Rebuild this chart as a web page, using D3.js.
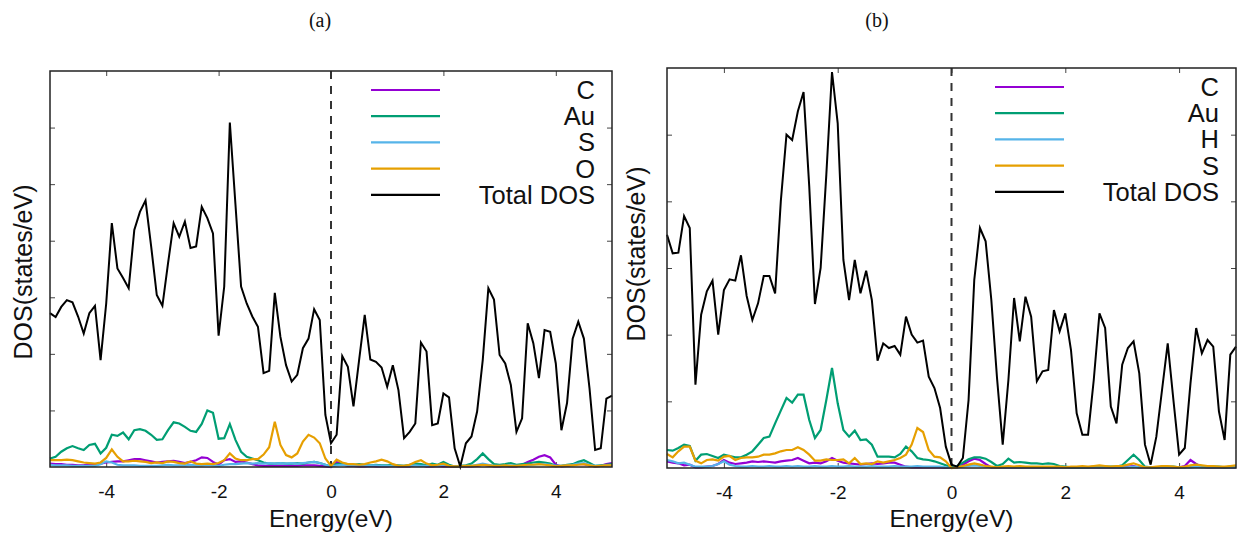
<!DOCTYPE html>
<html>
<head>
<meta charset="utf-8">
<script src="https://cdn.jsdelivr.net/npm/d3@7/dist/d3.min.js"></script>
<style>
  body { margin: 0; background: #fff; }
  svg { display: block; }
  text { font-family: "Liberation Sans", Arial, sans-serif; fill: #111; }
</style>
</head>
<body>
<script>
// energy grid of the DOS files (eV)
var energy = [-5.0,-4.9,-4.8,-4.7,-4.6,-4.5,-4.4,-4.3,-4.2,-4.1,-4.0,-3.9,-3.8,-3.7,-3.6,-3.5,-3.4,-3.3,-3.2,-3.1,
  -3.0,-2.9,-2.8,-2.7,-2.6,-2.5,-2.4,-2.3,-2.2,-2.1,-2.0,-1.9,-1.8,-1.7,-1.6,-1.5,-1.4,-1.3,-1.2,-1.1,
  -1.0,-0.9,-0.8,-0.7,-0.6,-0.5,-0.4,-0.3,-0.2,-0.1,0.0,0.1,0.2,0.3,0.4,0.5,0.6,0.7,0.8,0.9,
  1.0,1.1,1.2,1.3,1.4,1.5,1.6,1.7,1.8,1.9,2.0,2.1,2.2,2.3,2.4,2.5,2.6,2.7,2.8,2.9,
  3.0,3.1,3.2,3.3,3.4,3.5,3.6,3.7,3.8,3.9,4.0,4.1,4.2,4.3,4.4,4.5,4.6,4.7,4.8,4.9,5.0];

// panel (a)
var aTotal = [2.72,2.65,2.83,2.95,2.91,2.66,2.36,2.72,2.85,1.89,2.89,4.31,3.51,3.34,3.16,4.19,4.51,4.71,3.90,3.04,
  2.85,3.60,4.31,4.07,4.34,3.87,3.90,4.60,4.40,4.13,2.32,3.19,6.09,4.64,3.19,2.89,2.66,2.48,1.66,1.70,
  3.08,2.30,1.80,1.51,1.63,2.10,2.27,2.79,2.60,0.92,0.42,0.57,1.96,1.77,1.07,1.89,2.69,1.90,1.86,1.76,
  1.42,1.80,1.36,0.51,0.62,0.77,2.20,2.04,0.74,0.77,1.30,1.23,0.33,0.01,0.42,0.54,0.98,1.89,3.16,2.96,
  1.98,1.83,1.45,0.62,0.86,2.54,2.19,1.57,2.42,2.39,1.83,0.65,1.13,2.27,2.57,2.27,1.39,0.30,0.33,1.21,1.26];
var aC = [0.06,0.05,0.05,0.04,0.04,0.03,0.03,0.05,0.04,0.06,0.08,0.09,0.10,0.10,0.12,0.14,0.14,0.12,0.10,0.08,
  0.09,0.10,0.11,0.09,0.07,0.09,0.12,0.17,0.16,0.09,0.04,0.12,0.14,0.09,0.10,0.08,0.05,0.03,0.02,0.02,
  0.02,0.02,0.02,0.02,0.02,0.03,0.03,0.03,0.02,0.01,0.00,0.09,0.05,0.02,0.02,0.01,0.01,0.02,0.01,0.01,
  0.01,0.02,0.01,0.01,0.01,0.04,0.03,0.01,0.01,0.02,0.01,0.01,0.00,0.01,0.01,0.01,0.02,0.04,0.03,0.01,
  0.01,0.02,0.01,0.01,0.04,0.09,0.13,0.18,0.21,0.17,0.04,0.01,0.02,0.04,0.05,0.05,0.03,0.01,0.02,0.05,0.07];
var aAu = [0.15,0.18,0.27,0.33,0.37,0.33,0.30,0.39,0.41,0.24,0.34,0.57,0.55,0.61,0.49,0.65,0.67,0.64,0.57,0.48,
  0.49,0.65,0.79,0.77,0.71,0.64,0.62,0.76,1.00,0.96,0.50,0.51,0.76,0.48,0.27,0.18,0.15,0.12,0.08,0.06,
  0.06,0.07,0.06,0.06,0.07,0.06,0.08,0.09,0.07,0.04,0.01,0.05,0.06,0.05,0.04,0.05,0.04,0.03,0.04,0.03,
  0.03,0.04,0.03,0.02,0.04,0.06,0.05,0.03,0.06,0.04,0.09,0.04,0.01,0.02,0.03,0.06,0.14,0.24,0.14,0.05,
  0.04,0.05,0.07,0.04,0.05,0.06,0.08,0.09,0.08,0.06,0.02,0.02,0.04,0.05,0.09,0.12,0.07,0.02,0.03,0.04,0.05];
var aS = [0.04,0.03,0.03,0.03,0.02,0.02,0.02,0.02,0.02,0.05,0.10,0.08,0.04,0.03,0.03,0.03,0.02,0.02,0.02,0.02,
  0.03,0.04,0.03,0.03,0.03,0.04,0.03,0.03,0.04,0.03,0.02,0.04,0.05,0.05,0.06,0.07,0.06,0.07,0.06,0.07,
  0.06,0.07,0.06,0.07,0.06,0.07,0.08,0.09,0.07,0.04,0.01,0.03,0.04,0.03,0.03,0.03,0.03,0.03,0.03,0.02,
  0.02,0.02,0.02,0.02,0.02,0.03,0.02,0.02,0.03,0.02,0.04,0.02,0.01,0.01,0.02,0.02,0.04,0.06,0.04,0.02,
  0.02,0.02,0.03,0.02,0.02,0.03,0.04,0.05,0.05,0.04,0.02,0.02,0.03,0.04,0.06,0.07,0.04,0.02,0.02,0.03,0.03];
var aO = [0.12,0.12,0.12,0.13,0.12,0.10,0.08,0.07,0.06,0.08,0.16,0.31,0.18,0.10,0.10,0.11,0.10,0.09,0.07,0.08,
  0.07,0.10,0.09,0.07,0.06,0.10,0.06,0.05,0.06,0.05,0.07,0.12,0.24,0.15,0.12,0.12,0.14,0.14,0.22,0.35,
  0.80,0.39,0.21,0.17,0.24,0.45,0.57,0.52,0.42,0.15,0.02,0.13,0.08,0.05,0.05,0.04,0.05,0.08,0.10,0.13,
  0.10,0.05,0.02,0.02,0.04,0.09,0.12,0.06,0.03,0.04,0.06,0.02,0.01,0.01,0.02,0.02,0.03,0.04,0.03,0.02,
  0.02,0.03,0.02,0.02,0.03,0.04,0.04,0.05,0.04,0.03,0.01,0.02,0.03,0.03,0.04,0.05,0.03,0.01,0.02,0.03,0.03];

// panel (b)
var bTotal = [3.50,3.22,3.23,3.78,3.60,1.25,2.30,2.65,2.81,2.00,2.67,2.83,2.81,3.19,2.58,2.22,2.47,2.88,2.88,2.62,
  4.00,5.00,4.92,5.35,5.64,4.22,2.46,3.00,4.40,5.94,5.17,3.12,2.52,3.12,2.62,2.96,2.52,1.61,1.87,1.80,
  1.83,1.70,2.27,2.00,1.88,1.91,1.37,1.20,0.90,0.32,0.05,0.02,0.15,1.02,2.82,3.60,3.40,2.52,1.35,0.35,
  1.32,2.55,1.90,2.57,2.27,1.30,1.45,1.47,2.37,2.05,2.32,1.77,0.82,0.50,0.50,1.32,2.32,2.10,0.92,0.67,
  1.55,1.80,1.90,1.42,0.35,0.05,0.47,1.17,1.87,1.02,0.20,0.30,1.27,2.10,1.72,1.92,1.82,0.85,0.42,1.70,1.82];
var bC = [0.10,0.08,0.07,0.04,0.05,0.01,0.01,0.02,0.03,0.06,0.12,0.08,0.06,0.07,0.08,0.10,0.09,0.10,0.09,0.08,
  0.10,0.11,0.12,0.15,0.11,0.07,0.08,0.07,0.10,0.15,0.11,0.08,0.07,0.06,0.05,0.06,0.07,0.06,0.07,0.08,
  0.08,0.05,0.02,0.01,0.01,0.01,0.01,0.01,0.01,0.00,0.00,0.01,0.05,0.10,0.14,0.12,0.06,0.01,0.01,0.01,
  0.01,0.01,0.01,0.01,0.01,0.01,0.01,0.01,0.01,0.01,0.01,0.01,0.01,0.01,0.01,0.01,0.01,0.01,0.01,0.01,
  0.01,0.02,0.03,0.01,0.01,0.01,0.01,0.01,0.01,0.01,0.01,0.03,0.12,0.06,0.02,0.01,0.01,0.01,0.01,0.01,0.01];
var bAu = [0.27,0.26,0.30,0.35,0.33,0.11,0.20,0.21,0.18,0.15,0.20,0.18,0.16,0.16,0.20,0.25,0.35,0.45,0.47,0.67,
  0.86,1.05,0.98,1.10,1.10,0.72,0.45,0.57,1.02,1.50,0.97,0.57,0.47,0.56,0.42,0.43,0.35,0.17,0.17,0.17,
  0.16,0.21,0.32,0.25,0.15,0.13,0.12,0.10,0.07,0.04,0.01,0.03,0.08,0.13,0.16,0.16,0.14,0.09,0.03,0.06,
  0.14,0.08,0.09,0.08,0.07,0.07,0.06,0.07,0.06,0.03,0.02,0.01,0.01,0.01,0.01,0.02,0.02,0.02,0.02,0.02,
  0.04,0.12,0.20,0.12,0.02,0.01,0.01,0.02,0.02,0.02,0.01,0.01,0.03,0.05,0.03,0.02,0.02,0.02,0.01,0.02,0.02];
var bH = [0.12,0.10,0.07,0.08,0.05,0.02,0.02,0.02,0.03,0.06,0.10,0.05,0.03,0.02,0.02,0.03,0.02,0.02,0.03,0.02,
  0.02,0.03,0.02,0.03,0.02,0.02,0.03,0.02,0.02,0.03,0.02,0.02,0.03,0.02,0.02,0.02,0.03,0.02,0.02,0.02,
  0.03,0.02,0.02,0.02,0.03,0.02,0.02,0.02,0.02,0.01,0.00,0.01,0.02,0.03,0.04,0.03,0.02,0.01,0.01,0.01,
  0.01,0.01,0.01,0.01,0.01,0.01,0.01,0.01,0.01,0.01,0.01,0.01,0.01,0.01,0.01,0.01,0.01,0.01,0.01,0.01,
  0.01,0.01,0.02,0.01,0.01,0.01,0.01,0.01,0.01,0.01,0.01,0.01,0.01,0.02,0.01,0.01,0.01,0.01,0.01,0.01,0.01];
var bS = [0.21,0.16,0.25,0.32,0.32,0.11,0.07,0.12,0.13,0.11,0.17,0.18,0.12,0.15,0.16,0.16,0.17,0.20,0.20,0.22,
  0.25,0.27,0.27,0.31,0.27,0.20,0.11,0.11,0.13,0.12,0.12,0.13,0.07,0.15,0.06,0.07,0.06,0.10,0.08,0.10,
  0.12,0.15,0.20,0.35,0.60,0.54,0.27,0.17,0.16,0.10,0.00,0.01,0.03,0.05,0.07,0.05,0.03,0.02,0.01,0.02,
  0.03,0.02,0.03,0.02,0.02,0.02,0.02,0.02,0.02,0.02,0.01,0.02,0.02,0.03,0.02,0.03,0.04,0.03,0.02,0.03,
  0.03,0.05,0.07,0.04,0.01,0.01,0.02,0.03,0.03,0.02,0.01,0.02,0.04,0.05,0.04,0.03,0.03,0.02,0.02,0.03,0.04];

var xTicks = [-4, -2, 0, 2, 4];
var aLabels = ["C", "Au", "S", "O", "Total DOS"];
var bLabels = ["C", "Au", "H", "S", "Total DOS"];
var colors = ["#9400d3", "#009e73", "#56b4e9", "#e69f00", "#000000"];

var w = 1241, h = 540;
var svg = d3.select("body").append("svg").attr("width", w).attr("height", h);

function drawPanel(opt) {
    var x = d3.scaleLinear().domain([-5, 5]).range([opt.left, opt.right]);
    var y = d3.scaleLinear().domain([0, opt.yMax]).range([opt.bottom, opt.top]);
    var g = svg.append("g");
    var yTicks = d3.range(1, opt.yMax);

    // ticks on all four sides, pointing inward
    g.append("g").attr("transform", "translate(0," + opt.bottom + ")")
        .call(d3.axisBottom(x).tickValues(xTicks).tickSizeInner(-5).tickSizeOuter(0).tickPadding(18)
            .tickFormat(function (d) { return d; }))
        .call(function (s) {
            s.select(".domain").remove();
            s.selectAll("text").attr("font-size", "19px").attr("font-family", null).style("fill", "#111");
        });
    g.append("g").attr("transform", "translate(0," + opt.top + ")")
        .call(d3.axisTop(x).tickValues(xTicks).tickSizeInner(-5).tickSizeOuter(0).tickFormat(""))
        .call(function (s) { s.select(".domain").remove(); });
    g.append("g").attr("transform", "translate(" + opt.left + ",0)")
        .call(d3.axisLeft(y).tickValues(yTicks).tickSizeInner(-5).tickSizeOuter(0).tickFormat(""))
        .call(function (s) { s.select(".domain").remove(); });
    g.append("g").attr("transform", "translate(" + opt.right + ",0)")
        .call(d3.axisRight(y).tickValues(yTicks).tickSizeInner(-5).tickSizeOuter(0).tickFormat(""))
        .call(function (s) { s.select(".domain").remove(); });
    g.selectAll(".tick line").attr("stroke", "#444").attr("stroke-width", 1);

    // fermi level
    g.append("line")
        .attr("x1", x(0)).attr("x2", x(0))
        .attr("y1", opt.top).attr("y2", opt.bottom)
        .attr("stroke", "#333").attr("stroke-width", 2)
        .attr("stroke-dasharray", "8,7");

    var line = d3.line()
        .x(function (d, i) { return x(energy[i]); })
        .y(function (d) { return y(d); });

    // partials first, total on top
    opt.series.forEach(function (s, i) {
        g.append("path")
            .datum(s)
            .attr("d", line)
            .attr("fill", "none")
            .attr("stroke", colors[i])
            .attr("stroke-width", i === 4 ? 2 : 2.2)
            .attr("stroke-linejoin", "miter");
    });

    // frame
    g.append("rect")
        .attr("x", opt.left).attr("y", opt.top)
        .attr("width", opt.right - opt.left).attr("height", opt.bottom - opt.top)
        .attr("fill", "none").attr("stroke", "#222").attr("stroke-width", 1.5);

    // legend
    var leg = g.append("g");
    opt.labels.forEach(function (lab, i) {
        var ly = opt.top + 19 + i * 26.2;
        leg.append("line")
            .attr("x1", opt.right - 241).attr("x2", opt.right - 172)
            .attr("y1", ly).attr("y2", ly)
            .attr("stroke", colors[i]).attr("stroke-width", 2.2);
        leg.append("text")
            .attr("x", opt.right - 17).attr("y", ly + 9)
            .attr("text-anchor", "end")
            .attr("font-size", "25.5px")
            .text(lab);
    });

    // axis titles
    g.append("text")
        .attr("x", x(0)).attr("y", 527)
        .attr("text-anchor", "middle")
        .attr("font-size", "24.5px")
        .text("Energy(eV)");
    g.append("text")
        .attr("transform", "translate(" + opt.yLabelX + "," + opt.yLabelY + ") rotate(-90)")
        .attr("text-anchor", "middle")
        .attr("font-size", "25px")
        .text("DOS(states/eV)");

    // panel tag
    svg.append("text")
        .attr("x", opt.tagX).attr("y", 27)
        .attr("text-anchor", "middle")
        .attr("font-size", "20px")
        .style("font-family", "'Liberation Serif', 'DejaVu Serif', serif")
        .text(opt.tag);
}

drawPanel({
    left: 50, right: 612, top: 71, bottom: 467, yMax: 7,
    series: [aC, aAu, aS, aO, aTotal], labels: aLabels,
    yLabelX: 32, yLabelY: 272, tag: "(a)", tagX: 320
});
drawPanel({
    left: 667, right: 1236, top: 68, bottom: 468, yMax: 6,
    series: [bC, bAu, bH, bS, bTotal], labels: bLabels,
    yLabelX: 645, yLabelY: 254, tag: "(b)", tagX: 877
});
</script>
</body>
</html>
